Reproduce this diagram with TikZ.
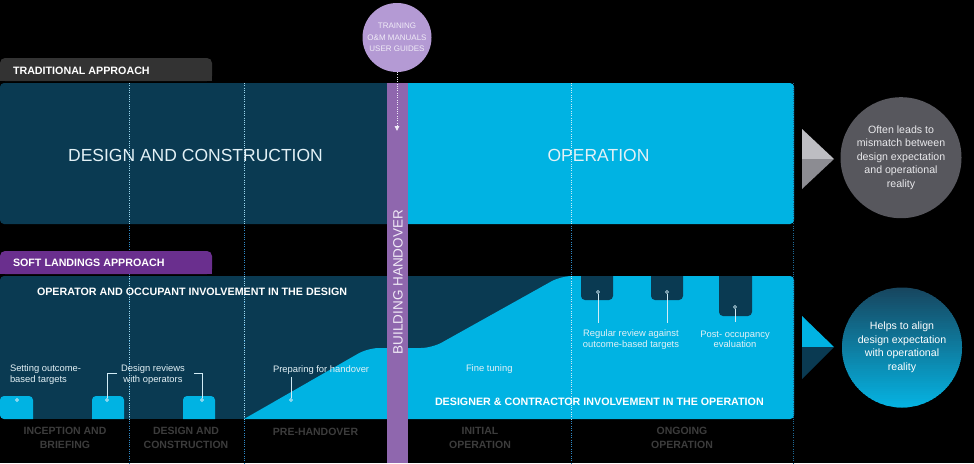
\documentclass[tikz,border=0pt]{standalone}
\usepackage{fontspec}
\setmainfont{Liberation Sans}
\usetikzlibrary{arrows.meta}
\definecolor{navy}{HTML}{0A3A52}
\definecolor{sky}{HTML}{00B3E3}
\definecolor{hbar}{HTML}{8F67AE}
\definecolor{slpurple}{HTML}{6A2F8E}
\definecolor{tabgrey}{HTML}{333333}
\definecolor{lav}{HTML}{B49AD4}
\definecolor{lavtxt}{HTML}{F0EBF7}
\definecolor{darkcirc}{HTML}{57575D}
\definecolor{circtext}{HTML}{E9E9EC}
\definecolor{lbl}{HTML}{3C3C3C}
\definecolor{txt}{HTML}{E3F1F6}
\definecolor{dotblue}{HTML}{2F8BC8}
\definecolor{dotlight}{HTML}{9ED9F0}
\definecolor{dotwhite}{HTML}{C8EEFA}
\definecolor{dotedge}{HTML}{1E6A96}
\definecolor{pin}{HTML}{D2ECF6}
\definecolor{trilight}{HTML}{BDBDC2}
\definecolor{tridark}{HTML}{8C8C92}
\definecolor{circtop}{HTML}{17465F}
\definecolor{circbot}{HTML}{05B4E3}
\definecolor{handtxt}{HTML}{F0EAF6}
\begin{document}
\begin{tikzpicture}[x=1pt,y=-1pt,
  every node/.style={inner sep=0pt, outer sep=0pt},
  bigtxt/.style={text=txt, font=\fontsize{17.5}{20}\selectfont},
  headtxt/.style={text=white, font=\fontsize{10.7}{13}\selectfont\bfseries},
  smalltxt/.style={text=txt, font=\fontsize{9.4}{10.3}\selectfont},
  phase/.style={text=lbl, align=center, font=\fontsize{10.5}{13.3}\selectfont\bfseries},
  circtxt/.style={align=center, font=\fontsize{10.6}{13.5}\selectfont},
  vline/.style={line width=0.9pt, dash pattern=on 0.9pt off 1.4pt},
  pinline/.style={draw=pin, line width=0.7pt},
  pindot/.style={circle, draw=pin, fill=pin!55!sky, line width=0.4pt, minimum size=3.2pt},
]
% background and bounding box
\fill[black] (0,0) rectangle (974,463);
\useasboundingbox (0,0) rectangle (974,463);

% traditional approach band
\fill[navy, rounded corners=4pt] (0,83) rectangle (393,224);
\fill[sky, rounded corners=4pt] (402,83) rectangle (794,224);

% soft landings band
\begin{scope}
  \clip[rounded corners=4pt] (0,276) rectangle (794,419);
  \fill[navy] (0,276) rectangle (794,419);
  \fill[sky, rounded corners=11pt] (207.3,440) -- (368,348) -- (432,348) -- (561,276) -- (900,276) -- (900,440) -- cycle;
  \fill[sky, rounded corners=4pt] (0,396) rectangle (33,430);
  \fill[sky, rounded corners=4pt] (92,396) rectangle (124,430);
  \fill[sky, rounded corners=4pt] (183,396) rectangle (215,430);
  \fill[navy, rounded corners=4pt] (581,260) rectangle (613,300);
  \fill[navy, rounded corners=4pt] (651,260) rectangle (683,300);
  \fill[navy, rounded corners=4pt] (719,260) rectangle (752,316);
\end{scope}

% dotted phase separators
\foreach \xx in {129,244,571} {
  \draw[vline, dotblue] (\xx,83) -- (\xx,463);
}
\foreach \xx in {129,244} {
  \draw[vline, dotlight] (\xx,83) -- (\xx,224);
  \draw[vline, dotlight] (\xx,276) -- (\xx,419);
}
\draw[vline, dotwhite] (571,83) -- (571,224);
\draw[vline, dotwhite] (571,276) -- (571,419);
\draw[vline, dotedge] (793,83) -- (793,463);

% tabs
\fill[tabgrey, rounded corners=5pt] (0,58) rectangle (212,81);
\fill[tabgrey] (0,72) rectangle (212,81);
\fill[slpurple, rounded corners=5pt] (0,251) rectangle (212,274);
\fill[slpurple] (0,265) rectangle (212,274);
\node[headtxt, anchor=base west] (tradtxt) at (13,74) {TRADITIONAL APPROACH};
\node[headtxt, anchor=base west] (softtxt) at (13,266.5) {SOFT LANDINGS APPROACH};

% building handover bar
\fill[hbar] (387,83) rectangle (408,463);
\node[rotate=90, text=handtxt, font=\fontsize{13.5}{15}\selectfont] (handover) at (398,282) {BUILDING HANDOVER};

% training circle and arrow
\node[circle, fill=lav, minimum size=69pt, align=center, text=lavtxt,
      font=\fontsize{8}{11.5}\selectfont] (train) at (397,37.5) {TRAINING\\O\&M MANUALS\\USER GUIDES};
\coordinate (trainend) at (397,131);
\draw[line width=0.9pt, draw=lavtxt, dash pattern=on 0.9pt off 1.4pt,
      -{Triangle[length=5pt,width=4.5pt]}] (train.south) -- (trainend);

% band texts
\node[bigtxt, anchor=base] (dc) at (195.5,161.5) {DESIGN AND CONSTRUCTION};
\node[bigtxt, anchor=base] (op) at (598.5,161.5) {OPERATION};
\node[headtxt, anchor=base west] (occ) at (37,295.3) {OPERATOR AND OCCUPANT INVOLVEMENT IN THE DESIGN};
\node[headtxt, anchor=base west] (desg) at (435,405.7) {DESIGNER \& CONTRACTOR INVOLVEMENT IN THE OPERATION};

% small labels
\node[smalltxt, align=left, anchor=west] (set) at (10,374.5) {Setting outcome-\\based targets};
\node[smalltxt, align=center] (rev) at (153,374.5) {Design reviews\\with operators};
\node[smalltxt, anchor=base west] (prep) at (273,372) {Preparing for handover};
\node[smalltxt, anchor=base west] (fine) at (466,371) {Fine tuning};
\node[smalltxt, align=center] (reg) at (631,339.5) {Regular review against\\outcome-based targets};
\node[smalltxt, align=center] (poe) at (735,339) {Post- occupancy\\evaluation};

% pins
\node[pindot] (d1) at (17,400) {};
\node[pindot] (d2) at (107,400) {};
\node[pindot] (d3) at (202,400) {};
\node[pindot] (d4) at (291,400) {};
\node[pindot, fill=navy!60!pin] (d5) at (598,292) {};
\node[pindot, fill=navy!60!pin] (d6) at (667,292) {};
\node[pindot, fill=navy!60!pin] (d7) at (735,307) {};
\coordinate (b2) at (117,373);
\coordinate (b3) at (194,373);
\coordinate (b4) at (291,377);
\coordinate (b5) at (598,323);
\coordinate (b6) at (667,323);
\coordinate (b7) at (735,322);
\draw[pinline] (d2.north) |- (b2);
\draw[pinline] (d3.north) |- (b3);
\draw[pinline] (d4.north) -- (b4);
\draw[pinline] (d5.south) -- (b5);
\draw[pinline] (d6.south) -- (b6);
\draw[pinline] (d7.south) -- (b7);

% phase labels
\node[phase] (ph1) at (65,437.8) {INCEPTION AND\\BRIEFING};
\node[phase] (ph2) at (186,437.8) {DESIGN AND\\CONSTRUCTION};
\node[phase, anchor=base] (ph3) at (315.5,435) {PRE-HANDOVER};
\node[phase] (ph4) at (480,437.8) {INITIAL\\OPERATION};
\node[phase] (ph5) at (682,437.8) {ONGOING\\OPERATION};

% outcome arrows
\fill[trilight] (802,129) -- (834,159) -- (802,159) -- cycle;
\fill[tridark] (802,159) -- (834,159) -- (802,189) -- cycle;
\fill[sky] (802,316) -- (834,347) -- (802,347) -- cycle;
\fill[navy] (802,347) -- (834,347) -- (802,379) -- cycle;

% outcome circles
\node[circle, fill=darkcirc, minimum size=121pt, circtxt, text=circtext] (mis) at (901,157.7)
  {Often leads to\\mismatch between\\design expectation\\and operational\\reality};
\begin{scope}
  \clip (902,347.5) circle (60);
  \foreach \i in {0,...,60} {
    \pgfmathtruncatemacro\pc{\i*100/60}
    \fill[circbot!\pc!circtop] (840,287+2*\i) rectangle (964,289.6+2*\i);
  }
\end{scope}
\node[circle, minimum size=120pt, circtxt, text=white] (aln) at (902,347.5)
  {Helps to align\\design expectation\\with operational\\reality};
\end{tikzpicture}
\end{document}
